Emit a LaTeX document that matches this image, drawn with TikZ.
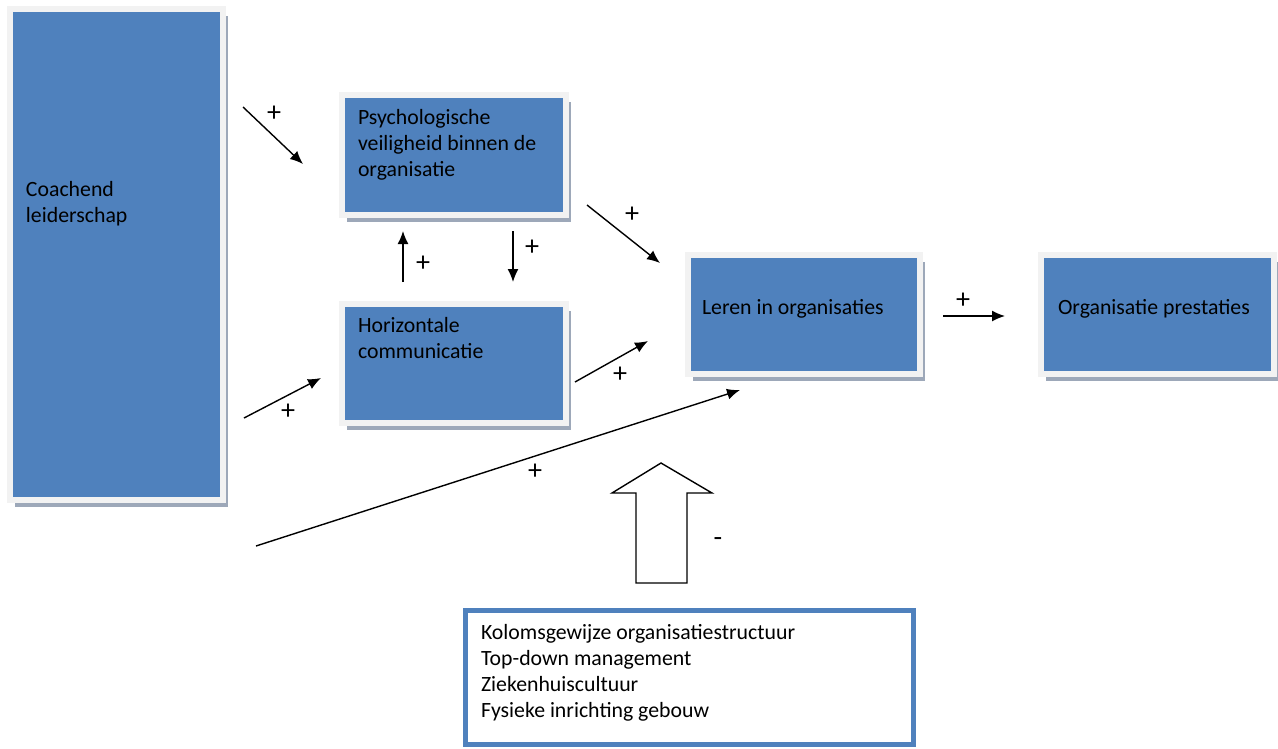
\documentclass[tikz,border=0pt]{standalone}
\usepackage{fontspec}
\setmainfont{Carlito}
\usetikzlibrary{arrows.meta,shadows}
\definecolor{blokblauw}{HTML}{4F81BD}
\definecolor{kader}{HTML}{F2F2F2}
\definecolor{schaduw}{HTML}{9DA8B9}

\begin{document}
\begin{tikzpicture}[x=0.02cm,y=-0.02cm]
\tikzstyle{every node}=[inner sep=0pt, outer sep=0pt]
\tikzstyle{blok}=[rectangle, fill=blokblauw, draw=kader, line width=0.12cm,
  drop shadow={shadow xshift=0.1cm, shadow yshift=-0.14cm, fill=schaduw, opacity=1}]
\tikzstyle{tekst}=[anchor=base west, align=left, font=\fontsize{12.4}{14.8}\selectfont]
\tikzstyle{pijl}=[-{Latex[length=0.26cm,width=0.22cm]}, line width=0.028cm]
\tikzstyle{plus}=[font=\fontsize{16}{16}\selectfont]
\useasboundingbox (0,0) rectangle (1278,748);
% blokken
\draw (116.5,254.5) node (b1) [blok, minimum width=4.26cm, minimum height=9.82cm] {};
\draw (454,155) node (b2) [blok, minimum width=4.48cm, minimum height=2.4cm] {};
\draw (454,363.5) node (b3) [blok, minimum width=4.48cm, minimum height=2.38cm] {};
\draw (804,314.5) node (b4) [blok, minimum width=4.66cm, minimum height=2.38cm] {};
\draw (1157.5,314.5) node (b5) [blok, minimum width=4.66cm, minimum height=2.38cm] {};
\draw (689.5,677) node (b6) [rectangle, draw=blokblauw, line width=0.1cm,
  minimum width=8.98cm, minimum height=2.68cm] {};
% teksten (anker op de laatste regel)
\draw (26,222) node (t1) [tekst] {Coachend\\leiderschap};
\draw (358,176) node (t2) [tekst] {Psychologische\\veiligheid binnen de\\organisatie};
\draw (358,358) node (t3) [tekst] {Horizontale\\communicatie};
\draw (702,314) node (t4) [tekst] {Leren in organisaties};
\draw (1058,314) node (t5) [tekst] {Organisatie prestaties};
\draw (481,717) node (t6) [tekst] {Kolomsgewijze organisatiestructuur\\Top-down management\\Ziekenhuiscultuur\\Fysieke inrichting gebouw};
% eindpunten van de pijlen
\coordinate (p1) at (243,107);  \coordinate (q1) at (303,164);
\coordinate (p2) at (244,418);  \coordinate (q2) at (321,378);
\coordinate (p3) at (403,282);  \coordinate (q3) at (403,231);
\coordinate (p4) at (513,231);  \coordinate (q4) at (513,282);
\coordinate (p5) at (587,205);  \coordinate (q5) at (660,263);
\coordinate (p6) at (575,382);  \coordinate (q6) at (648,341);
\coordinate (p7) at (256,546);  \coordinate (q7) at (740,390);
\coordinate (p8) at (943,316);  \coordinate (q8) at (1005,316);
\draw[pijl] (p1) -- (q1);
\draw[pijl] (p2) -- (q2);
\draw[pijl] (p3) -- (q3);
\draw[pijl] (p4) -- (q4);
\draw[pijl] (p5) -- (q5);
\draw[pijl] (p6) -- (q6);
\draw[pijl] (p7) -- (q7);
\draw[pijl] (p8) -- (q8);
\draw (274,114) node (s1) [plus] {+};
\draw (288,412) node (s2) [plus] {+};
\draw (423,264) node (s3) [plus] {+};
\draw (532,248) node (s4) [plus] {+};
\draw (632,215) node (s5) [plus] {+};
\draw (620,375) node (s6) [plus] {+};
\draw (535,472) node (s7) [plus] {+};
\draw (963,301) node (s8) [plus] {+};
% blokpijl
\draw[line width=0.028cm, fill=white] (636,583) -- (636,493) -- (612,493) -- (661,463)
  -- (712,493) -- (687,493) -- (687,583) -- cycle;
\draw (718,542) node (s9) [plus] {-};
\end{tikzpicture}
\end{document}
